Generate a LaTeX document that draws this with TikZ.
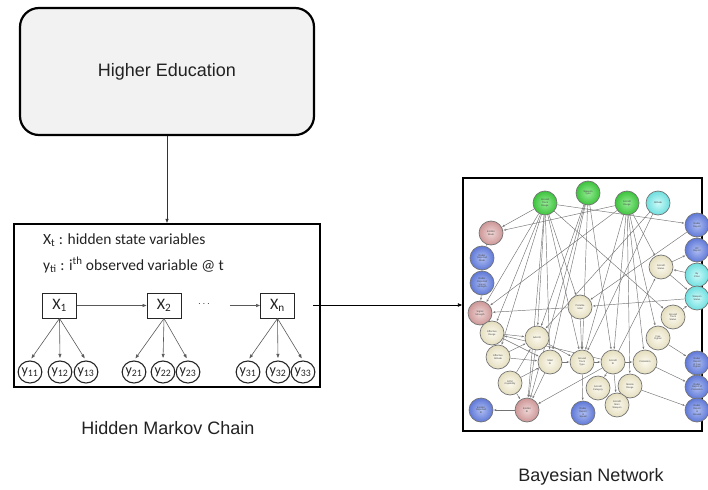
\documentclass[tikz,border=0pt]{standalone}
\usepackage{fontspec}
\setmainfont{Liberation Sans}
\newfontfamily\calib{Carlito}
\usetikzlibrary{arrows.meta,shapes.geometric,backgrounds}
\definecolor{txt}{HTML}{222222}
\tikzset{
  bigbox/.style={draw=black, line width=2.2pt},
  lbl/.style={font=\fontsize{18}{21}\selectfont, text=txt},
  hmmtxt/.style={font=\calib\fontsize{15.5}{18}\selectfont, text=txt, anchor=west, inner sep=0pt},
  xbox/.style={draw=black!85, line width=0.9pt, minimum width=34pt, minimum height=25pt, inner sep=0pt, font=\calib\fontsize{16}{18}\selectfont, text=txt},
  ycirc/.style={ellipse, draw=black!85, line width=1.1pt, minimum width=17pt, minimum height=22pt, inner sep=0pt, font=\calib\fontsize{14}{16}\selectfont, text=txt},
  harr/.style={draw=black!65, line width=0.6pt, -{Triangle[length=4pt,width=3pt]}},
  bn/.style={circle, draw=black!55, line width=0.7pt, minimum size=24pt, inner sep=0pt, align=center, font=\fontsize{2.4}{2.8}\selectfont, text=black!75},
  gnode/.style={bn, inner color={rgb,255:red,150;green,235;blue,150}, outer color={rgb,255:red,60;green,195;blue,60}},
  cnode/.style={bn, inner color={rgb,255:red,205;green,250;blue,250}, outer color={rgb,255:red,110;green,222;blue,222}},
  pnode/.style={bn, inner color={rgb,255:red,240;green,215;blue,215}, outer color={rgb,255:red,205;green,150;blue,150}},
  bnode/.style={bn, inner color={rgb,255:red,175;green,190;blue,242}, outer color={rgb,255:red,95;green,120;blue,215}},
  ynode/.style={bn, inner color={rgb,255:red,252;green,250;blue,240}, outer color={rgb,255:red,228;green,222;blue,190}},
  bnedge/.style={draw=black!55, line width=0.45pt, shorten >=0.5pt, -{Stealth[length=2.6pt,width=2pt]}}
}
\begin{document}
\begin{tikzpicture}[x=1pt,y=-1pt]
\useasboundingbox (0,0) rectangle (708,489);

% Higher Education
\node[bigbox, rounded corners=19pt, fill=gray!10, minimum width=294pt, minimum height=127pt, lbl] (he) at (167,71.5) {Higher Education};

% HMM box
\node[bigbox, minimum width=306pt, minimum height=163pt] (hmm) at (167,305.5) {};
\draw[draw=black!80, line width=0.6pt, -{Triangle[length=4pt,width=3pt]}] (he.south) -- (hmm.north);

\node[hmmtxt] (t1) at (43,240) {X\textsubscript{t} : hidden state variables};
\node[hmmtxt] (t2) at (43,265) {y\textsubscript{ti} : i\textsuperscript{th} observed variable @ t};

\node[xbox] (x1) at (59.5,305.5) {X\textsubscript{1}};
\node[xbox] (x2) at (164,305.5) {X\textsubscript{2}};
\node[xbox] (xn) at (277.5,305.5) {X\textsubscript{n}};
\node[font=\calib\fontsize{10}{12}\selectfont, text=txt] (dots) at (204,304) {$\cdots$};
\coordinate (xin) at (230,305.5);
\draw[harr] (x1) -- (x2);
\draw[harr] (xin) -- (xn);

\foreach \n/\x/\l in {y11/30/11, y12/60/12, y13/86/13, y21/134/21, y22/163/22, y23/188/23, y31/248/31, y32/278/32, y33/303/33}
  \node[ycirc] (\n) at (\x,372) {y\textsubscript{\l}};
\foreach \p/\c in {x1/y11, x1/y12, x1/y13, x2/y21, x2/y22, x2/y23, xn/y31, xn/y32, xn/y33}
  \draw[harr, shorten >=2.5pt] (\p.south) -- (\c.north);

\node[lbl] (hmc) at (168,428) {Hidden Markov Chain};

% Bayesian network box
\node[bigbox, minimum width=239pt, minimum height=253pt] (bnbox) at (582.5,304.5) {};
\coordinate (hout) at (313,305);
\draw[draw=black, line width=0.7pt, -{Triangle[length=4pt,width=3.5pt]}] (hout) -- (bnbox.west |- hout);
\node[lbl] (bnl) at (591,477) {Bayesian Network};

% nodes
\node[gnode] (GTR) at (545,203) {Ground\\Track\\Range};
\node[gnode] (WT) at (588,193) {Weapon\\Type};
\node[gnode] (AR) at (627,203) {Aircraft\\Range};
\node[cnode] (ALT) at (658,203) {Altitude};
\node[pnode] (EM) at (491,233) {Emitter\\Mode};
\node[bnode] (RRM) at (482,258) {Radar\\Reported\\Mode};
\node[bnode] (RRS) at (482,283) {Radar\\Reported\\Signal\\Strength};
\node[pnode] (SS) at (480,313) {Signal\\Strength};
\node[bnode] (RR) at (697,225) {Radar\\Report};
\node[bnode] (IFF) at (697,250) {IFF\\Report};
\node[cnode] (BC) at (697,275) {By\\Chan};
\node[cnode] (WS) at (697,298) {Weapon\\Status};
\node[ynode] (AS) at (661,267) {Aircraft\\Status};
\node[ynode] (PS) at (580,307) {Portable\\SAM};
\node[ynode] (GTS) at (673,317) {Ground\\Track\\Status};
\node[ynode] (ER) at (492,333) {Effective\\Range};
\node[ynode] (AAA) at (537,338) {AAA ID};
\node[ynode] (FF) at (658,338) {Free\\Fighter};
\node[ynode] (EA) at (498,357) {Effective\\Altitude};
\node[ynode] (SAM) at (550,362) {SAM\\ID};
\node[ynode] (GTT) at (582,362) {Ground\\Track\\Type};
\node[ynode] (AID) at (613,362) {Aircraft\\ID};
\node[ynode] (FORM) at (645,362) {Formation};
\node[ynode] (ECM) at (510,383) {ECM\\Capability};
\node[ynode] (AC) at (598,388) {Aircraft\\Category};
\node[ynode] (MR) at (630,386) {Missile\\Range};
\node[bnode] (RRFF) at (697,363) {Radar\\Report\\of Free\\Fighter};
\node[bnode] (RRF) at (697,387) {Radar\\Report of\\Formation};
\node[bnode] (ERID) at (481,410) {Emitter\\Reported\\ID};
\node[pnode] (EID) at (527,410) {Emitter\\ID};
\node[bnode] (RRSP) at (583,413) {Radar\\Report\\of\\Speed};
\node[ynode] (AMW) at (617,405) {Aircraft\\Main\\Weapon};
\node[bnode] (RRG) at (697,410) {Radar\\Report\\of\\Ground};

\begin{scope}[on background layer]
\foreach \a/\b in {GTR/EM, AR/EM, GTR/RR, GTR/SS, GTR/ER, GTR/EA, GTR/AAA, GTR/SAM, GTR/EID, GTR/GTT, GTR/GTS, GTR/PS,
  WT/SAM, WT/GTT, WT/AID, WT/AAA, WT/EID,
  AR/AID, AR/FORM, AR/MR, AR/AS, AR/FF, AR/SS, AR/GTT,
  ALT/GTT, ALT/AAA,
  EM/RRM, RRS/SS, PS/SS, WS/PS, AS/IFF, AS/WS, GTS/WS, RR/PS,
  FF/RRFF, FORM/RRF, MR/RRG, AID/FORM, GTT/AID, SAM/GTT, AID/AC, AID/AMW, AID/ER, AID/EID, AID/AS,
  ER/AAA, ER/SAM, EA/SAM, EA/AAA, ECM/AAA, ECM/SAM, AAA/EID, SAM/EID, ECM/EID,
  EID/ERID, GTT/RRSP, MR/AMW, AAA/GTT, PS/GTT, SS/ER, BC/AS}
  \draw[bnedge] (\a) -- (\b);
\end{scope}
\end{tikzpicture}
\end{document}
